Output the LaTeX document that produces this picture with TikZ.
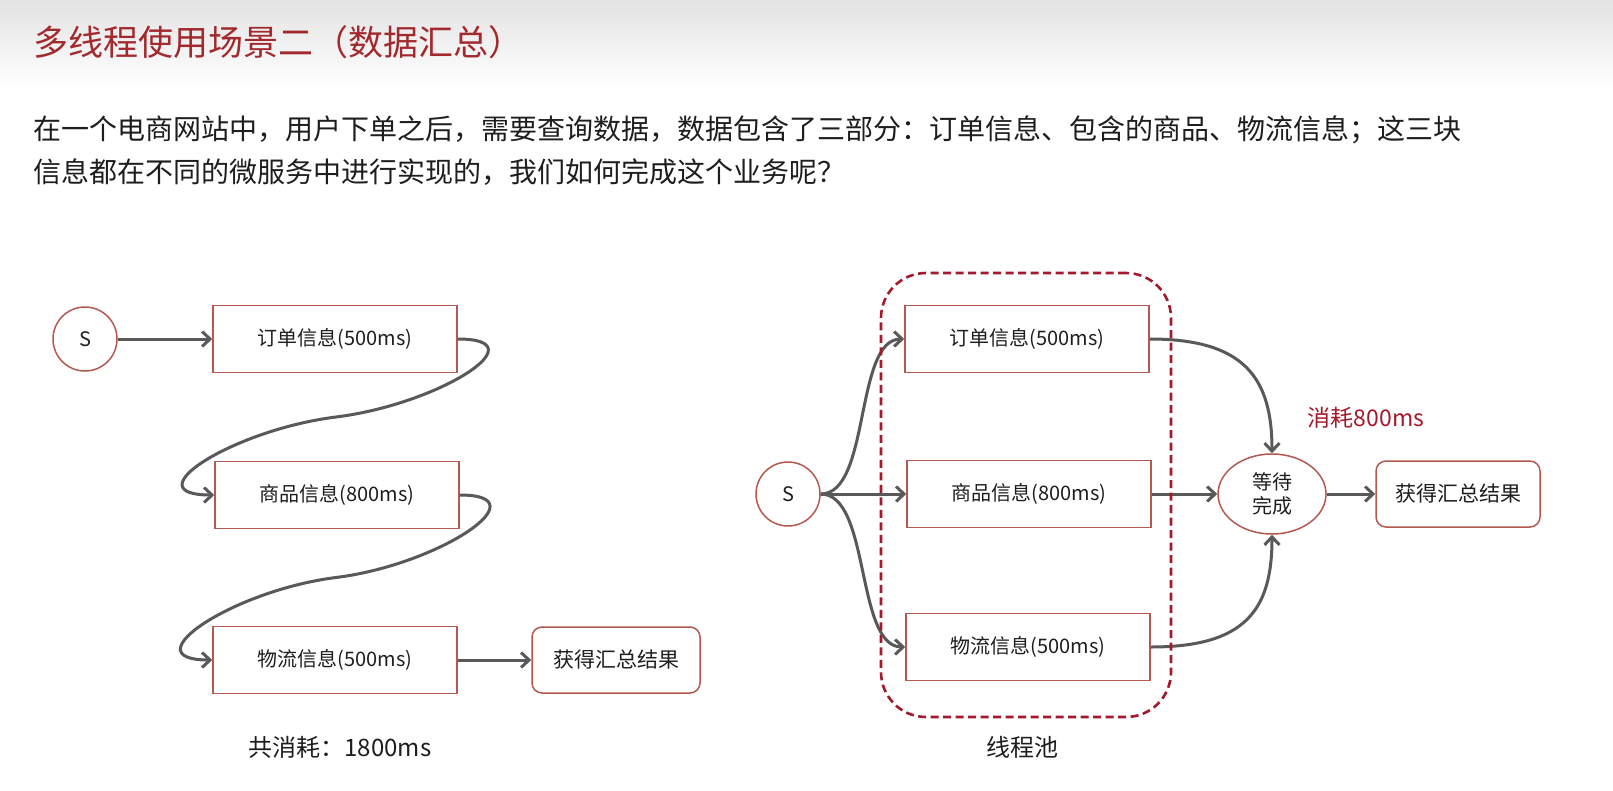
\documentclass[tikz,border=0pt]{standalone}
\usepackage{fontspec}
\setmainfont{Noto Sans CJK SC}
\usetikzlibrary{arrows.meta,shapes.geometric,calc}
\definecolor{titlered}{HTML}{A2292D}
\definecolor{boxred}{HTML}{B5584F}
\definecolor{poolred}{HTML}{A31A2C}
\definecolor{arrowgray}{HTML}{595959}
\definecolor{textblack}{HTML}{1E1E1E}

\tikzset{
  infobox/.style={draw=boxred, line width=1.5pt, fill=white, text=textblack,
    minimum width=244pt, minimum height=67pt, inner sep=0pt,
    font=\fontsize{20}{24}\selectfont},
  resultbox/.style={infobox, rounded corners=10pt, minimum width=168pt,
    minimum height=66pt, font=\fontsize{21}{25}\selectfont},
  startnode/.style={circle, draw=boxred, line width=1.5pt, fill=white,
    text=textblack, minimum size=64pt, inner sep=0pt,
    font=\fontsize{20}{24}\selectfont},
  waitnode/.style={ellipse, draw=boxred, line width=1.5pt, fill=white,
    text=textblack, minimum width=108pt, minimum height=80pt, inner sep=0pt,
    align=center, font=\fontsize{20}{24}\selectfont},
  poolbox/.style={draw=poolred, line width=2.6pt, rounded corners=45pt,
    dash pattern=on 8pt off 4.5pt, minimum width=290pt, minimum height=444pt},
  flow/.style={->, draw=arrowgray, line width=3pt},
  caption/.style={text=textblack, inner sep=0pt, font=\fontsize{24}{28}\selectfont},
}

\begin{document}
\begin{tikzpicture}[x=1pt, y=-1pt, >={Straight Barb[length=8pt,width=15pt]}]

% --- page and header band ---------------------------------------------
\useasboundingbox (0,0) rectangle (1613,790);
\fill[white] (0,0) rectangle (1613,790);
\shade[top color=black!11, bottom color=white] (0,0) rectangle (1613,88);

\node[anchor=west, inner sep=0pt, text=titlered,
      font=\fontsize{35}{40}\selectfont] (title) at (33,42)
  {多线程使用场景二（数据汇总）};
\node[anchor=west, inner sep=0pt, text=textblack,
      font=\fontsize{28}{32}\selectfont] (line1) at (33,130)
  {在一个电商网站中，用户下单之后，需要查询数据，数据包含了三部分：订单信息、包含的商品、物流信息；这三块};
\node[anchor=west, inner sep=0pt, text=textblack,
      font=\fontsize{28}{32}\selectfont] (line2) at (33,172)
  {信息都在不同的微服务中进行实现的，我们如何完成这个业务呢？};

% === serial version (left) ==========================================
\node[startnode] (s1)      at (85,339)  {S};
\node[infobox]   (order1)  at (335,339) {订单信息(500ms)};
\node[infobox]   (goods1)  at (337,495) {商品信息(800ms)};
\node[infobox]   (ship1)   at (335,660) {物流信息(500ms)};
\node[resultbox] (result1) at (616,660) {获得汇总结果};
\node[caption]   (total)   at (340,747) {共消耗：1800ms};

% turning points of the two S-bends
\coordinate (bend1) at ($(order1.east)!0.5!(goods1.west)$);
\coordinate (bend2) at ($(goods1.east)!0.5!(ship1.west)$);

\draw[flow] (s1) -- (order1);
\draw[flow] (order1.east) .. controls +(83,0) and +(104,-13) .. (bend1)
                          .. controls +(-104,13) and +(-83,0) .. (goods1.west);
\draw[flow] (goods1.east) .. controls +(83,0) and +(104,-13) .. (bend2)
                          .. controls +(-104,13) and +(-83,0) .. (ship1.west);
\draw[flow] (ship1) -- (result1);

% === parallel version (right) =======================================
\node[startnode] (s2)      at (788,494)  {S};
\node[infobox]   (order2)  at (1027,339) {订单信息(500ms)};
\node[infobox]   (goods2)  at (1029,494) {商品信息(800ms)};
\node[infobox]   (ship2)   at (1028,647) {物流信息(500ms)};
\node[waitnode]  (wait)    at (1272,494) {等待\\完成};
\node[resultbox, minimum width=164pt] (result2) at (1458,494) {获得汇总结果};
\node[caption, text=poolred, font=\fontsize{23}{27}\selectfont] (cost)
  at (1366,418) {消耗800ms};

\draw[flow] (s2.east) .. controls +(50,0) and +(-50,0) .. (order2.west);
\draw[flow] (s2) -- (goods2);
\draw[flow] (s2.east) .. controls +(50,0) and +(-50,0) .. (ship2.west);
\draw[flow] (order2.east) .. controls +(95,0) and +(0,-75) .. (wait.north);
\draw[flow] (goods2) -- (wait);
\draw[flow] (ship2.east) .. controls +(95,0) and +(0,75) .. (wait.south);
\draw[flow] (wait) -- (result2);

% --- thread pool frame --------------------------------------------
\node[poolbox] (pool) at (1026,495) {};
\node[caption] (poolname) at (1022,747) {线程池};

\end{tikzpicture}
\end{document}
